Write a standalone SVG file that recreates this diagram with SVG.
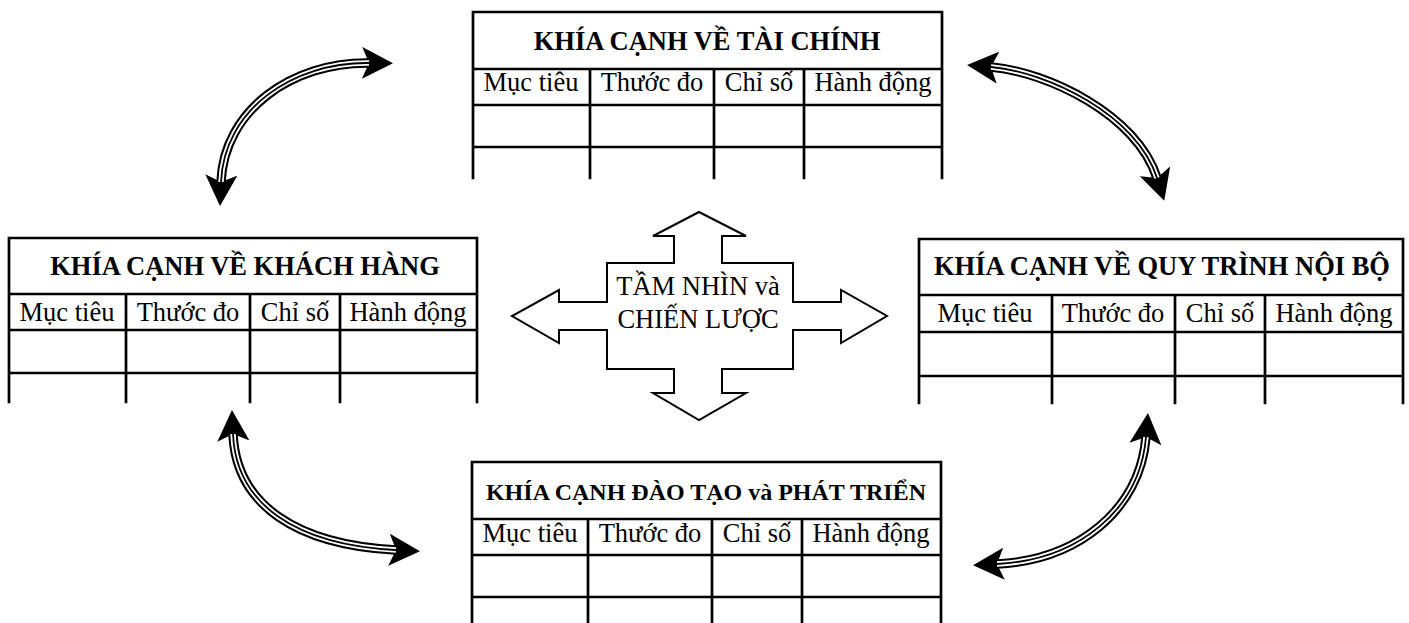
<svg xmlns="http://www.w3.org/2000/svg" width="1409" height="623" viewBox="0 0 1409 623">
  <style>
    .grid { fill: none; stroke: #000; stroke-width: 2.7; stroke-linecap: square; }
    .hd { font-family: "Liberation Serif", "Times New Roman", serif; font-weight: bold; font-size: 26.5px; text-anchor: middle; fill: #000; }
    .hd.sm { font-size: 24px; }
    .cell { font-family: "Liberation Serif", "Times New Roman", serif; font-size: 26.5px; text-anchor: middle; fill: #000; }
    .cross { fill: #fff; stroke: #000; stroke-width: 2; stroke-linejoin: miter; }
    .rail-outer { fill: none; stroke: #000; stroke-width: 9.5; }
    .rail-gap { fill: none; stroke: #fff; stroke-width: 5.4; }
    .rail-core { fill: none; stroke: #000; stroke-width: 1.8; }
  </style>
  <defs>
    <marker id="head" viewBox="0 -16 31 32" refX="7" refY="0" markerWidth="31" markerHeight="32" markerUnits="userSpaceOnUse" orient="auto-start-reverse">
      <path d="M0,-16 L31,0 L0,16 L7,0 Z" fill="#000"/>
    </marker>
    <path id="c1" d="M 221 182 C 224 110, 292 62, 369 63"/>
    <path id="c2" d="M 991 67 C 1048 72, 1137 115, 1157 178"/>
    <path id="c3" d="M 233 434 C 236 505, 297 545, 396 550"/>
    <path id="c4" d="M 1146 437 C 1140 510, 1078 560, 997 564"/>
  </defs>
  <rect width="1409" height="623" fill="#fff"/>

  <!-- curved two-way connectors between the four perspectives -->
  <g id="connectors">
    <use href="#c1" class="rail-outer" marker-start="url(#head)" marker-end="url(#head)"/>
    <use href="#c1" class="rail-gap"/>
    <use href="#c1" class="rail-core"/>
    <use href="#c2" class="rail-outer" marker-start="url(#head)" marker-end="url(#head)"/>
    <use href="#c2" class="rail-gap"/>
    <use href="#c2" class="rail-core"/>
    <use href="#c3" class="rail-outer" marker-start="url(#head)" marker-end="url(#head)"/>
    <use href="#c3" class="rail-gap"/>
    <use href="#c3" class="rail-core"/>
    <use href="#c4" class="rail-outer" marker-start="url(#head)" marker-end="url(#head)"/>
    <use href="#c4" class="rail-gap"/>
    <use href="#c4" class="rail-core"/>
  </g>

  <!-- financial perspective -->
  <g id="tai-chinh">
    <path class="grid" d="M473,178 V12 H942 V178 M473,69 H942 M473,105 H942 M473,147 H942 M590,69 V178 M714,69 V178 M804,69 V178"/>
    <text class="hd" x="707" y="50">KHÍA CẠNH VỀ TÀI CHÍNH</text>
    <text class="cell" x="531" y="91">Mục tiêu</text>
    <text class="cell" x="652" y="91">Thước đo</text>
    <text class="cell" x="759" y="91">Chỉ số</text>
    <text class="cell" x="873" y="91">Hành động</text>
  </g>

  <!-- customer perspective -->
  <g id="khach-hang">
    <path class="grid" d="M9,402 V238 H477 V402 M9,294 H477 M9,330 H477 M9,373 H477 M126,294 V402 M250,294 V402 M340,294 V402"/>
    <text class="hd" x="245" y="275">KHÍA CẠNH VỀ KHÁCH HÀNG</text>
    <text class="cell" x="67" y="321">Mục tiêu</text>
    <text class="cell" x="188" y="321">Thước đo</text>
    <text class="cell" x="295" y="321">Chỉ số</text>
    <text class="cell" x="408" y="321">Hành động</text>
  </g>

  <!-- internal process perspective -->
  <g id="quy-trinh">
    <path class="grid" d="M919,403 V239 H1403 V403 M919,295 H1403 M919,332 H1403 M919,376 H1403 M1052,295 V403 M1175,295 V403 M1265,295 V403"/>
    <text class="hd" x="1162" y="275">KHÍA CẠNH VỀ QUY TRÌNH NỘI BỘ</text>
    <text class="cell" x="985" y="322">Mục tiêu</text>
    <text class="cell" x="1113" y="322">Thước đo</text>
    <text class="cell" x="1220" y="322">Chỉ số</text>
    <text class="cell" x="1334" y="322">Hành động</text>
  </g>

  <!-- learning and growth perspective -->
  <g id="dao-tao">
    <path class="grid" d="M472,625 V462 H941 V625 M472,519 H941 M472,555 H941 M472,597 H941 M588,519 V625 M712,519 V625 M802,519 V625"/>
    <text class="hd sm" x="706" y="500">KHÍA CẠNH ĐÀO TẠO và PHÁT TRIỂN</text>
    <text class="cell" x="530" y="542">Mục tiêu</text>
    <text class="cell" x="650" y="542">Thước đo</text>
    <text class="cell" x="757" y="542">Chỉ số</text>
    <text class="cell" x="871" y="542">Hành động</text>
  </g>

  <!-- vision and strategy: four-way arrow -->
  <g id="tam-nhin">
    <path class="cross" d="M699,212 L746,236 L722,236 L722,263 L793,263 L793,302 L841,302 L841,290 L887,316 L841,343 L841,330 L793,330 L793,369 L722,369 L722,393 L746,393 L699,420 L653,393 L674,393 L674,369 L607,369 L607,330 L559,330 L559,343 L512,316 L559,290 L559,302 L607,302 L607,263 L674,263 L674,236 L653,236 Z"/>
    <text class="cell" x="698" y="295">TẦM NHÌN và</text>
    <text class="cell" x="698" y="328">CHIẾN LƯỢC</text>
  </g>
</svg>
